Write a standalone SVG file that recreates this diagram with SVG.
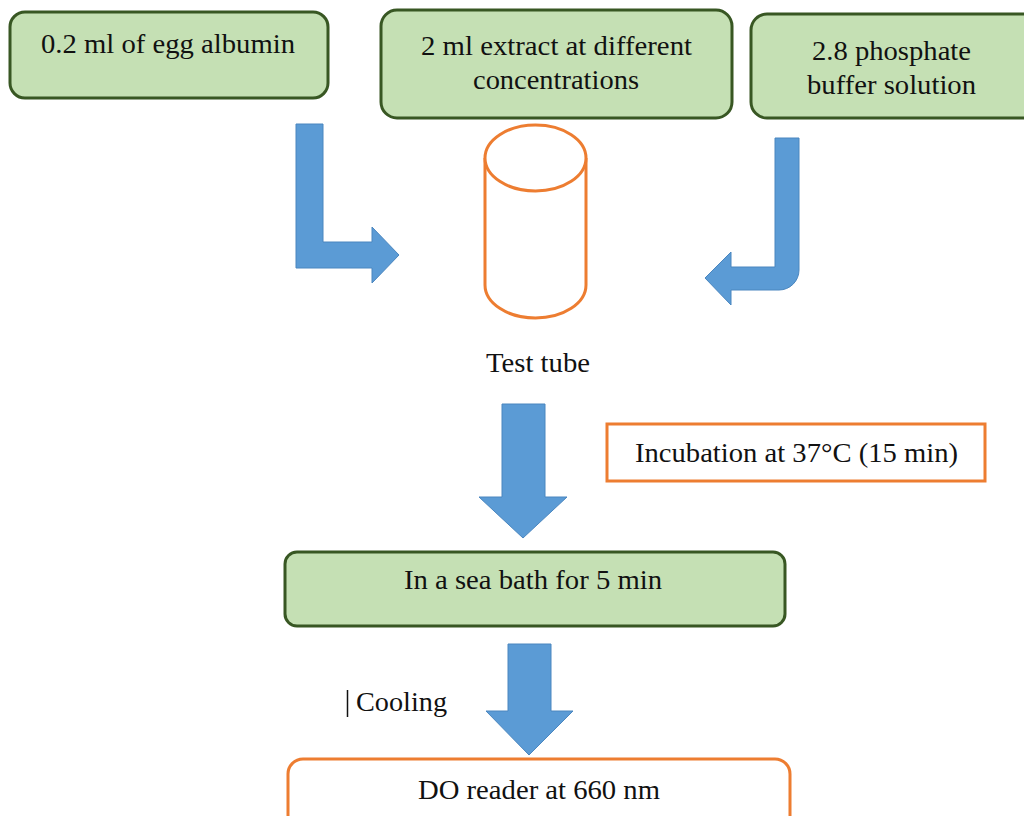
<svg xmlns="http://www.w3.org/2000/svg" width="1024" height="816" viewBox="0 0 1024 816" font-family="'Liberation Serif', 'DejaVu Serif', serif">
<style>
.g{fill:#C5E0B4;stroke:#385723;stroke-width:3}
.o{fill:#FFFFFF;stroke:#ED7D31;stroke-width:3}
.a{fill:#5B9BD5;stroke:#4A86BF;stroke-width:1}
.t{font-family:'Liberation Serif', serif;font-size:27px;fill:#111111}
</style>
<rect width="1024" height="816" fill="#FFFFFF"/>
<g id="connectors">
<path class="a" d="M296,124 L323,124 L323,242 L372,242 L372,227 L399,255 L372,283 L372,268 L296,268 Z"/>
<path class="a" d="M775,138 L799,138 L799,270 A20,20 0 0 1 779,290 L731,290 L731,305 L705,278 L731,252 L731,267 L775,267 Z"/>
<path class="a" d="M502,404 L545,404 L545,497 L567,497 L523,538 L479,497 L502,497 Z"/>
<path class="a" d="M508,644 L551,644 L551,711 L573,711 L529,755 L486,711 L508,711 Z"/>
</g>
<g id="egg">
<rect class="g" x="10" y="12" width="318" height="86" rx="15"/>
<text class="t" x="41" y="53" textLength="254" lengthAdjust="spacingAndGlyphs">0.2 ml of egg albumin</text>
</g>
<g id="extract">
<rect class="g" x="381" y="10" width="351" height="108" rx="16"/>
<text class="t" x="421" y="55" textLength="271" lengthAdjust="spacingAndGlyphs">2 ml extract at different</text>
<text class="t" x="473" y="89" textLength="166" lengthAdjust="spacingAndGlyphs">concentrations</text>
</g>
<g id="buffer">
<rect class="g" x="751" y="14" width="290" height="104" rx="16"/>
<text class="t" x="812" y="60" textLength="159" lengthAdjust="spacingAndGlyphs">2.8 phosphate</text>
<text class="t" x="807" y="94" textLength="169" lengthAdjust="spacingAndGlyphs">buffer solution</text>
</g>
<g id="tube">
<path class="o" d="M485,158 L485,285 A50.5,33 0 0 0 586,285 L586,158"/>
<ellipse class="o" cx="535.5" cy="158" rx="50.5" ry="33"/>
<text class="t" x="486" y="372" textLength="104" lengthAdjust="spacingAndGlyphs">Test tube</text>
</g>
<g id="incubation">
<rect class="o" x="607" y="424" width="378" height="57"/>
<text class="t" x="635" y="462" textLength="323" lengthAdjust="spacingAndGlyphs">Incubation at 37°C (15 min)</text>
</g>
<g id="seabath">
<rect class="g" x="285" y="552" width="500" height="74" rx="12"/>
<text class="t" x="404" y="589" textLength="258" lengthAdjust="spacingAndGlyphs">In a sea bath for 5 min</text>
</g>
<g id="cooling">
<line x1="347.5" y1="690" x2="347.5" y2="717" stroke="#111111" stroke-width="1.5"/>
<text class="t" x="356" y="711" textLength="91" lengthAdjust="spacingAndGlyphs">Cooling</text>
</g>
<g id="reader">
<rect class="o" x="288" y="759" width="502" height="80" rx="15"/>
<text class="t" x="418" y="799" textLength="242" lengthAdjust="spacingAndGlyphs">DO reader at 660 nm</text>
</g>
</svg>
